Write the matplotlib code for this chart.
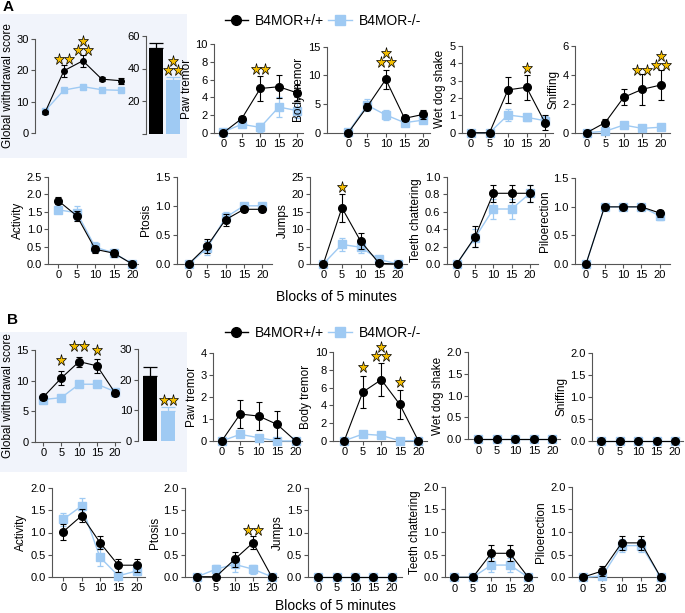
import matplotlib
matplotlib.use('Agg')
import matplotlib.pyplot as plt
import matplotlib.transforms as mtransforms
import matplotlib.ticker as ticker
from matplotlib.lines import Line2D
from matplotlib.patches import Rectangle

plt.rcParams['font.family'] = ['Liberation Sans', 'DejaVu Sans']

W, H = 685, 613
BLUE = '#9fcaf3'
GOLD = '#f5be00'
BOX = '#f1f4fb'
SPINE = '#555555'

blocks = [0, 5, 10, 15, 20]
groups = ['B4MOR+/+', 'B4MOR-/-']

# ---- panel A ----
a_global_wt = [6.5, 19.9, 23.1, 17.2, 16.7]
a_global_wt_err = [0.4, 2.0, 1.9, 0.7, 1.0]
a_global_ko = [7.0, 13.7, 14.8, 13.8, 13.6]
a_global_ko_err = [0.4, 0.6, 0.6, 0.5, 0.5]
a_total = [52.8, 32.9]
a_total_err = [3.1, 2.0]

a_paw_wt = [0.0, 1.6, 5.0, 5.2, 4.5]
a_paw_wt_err = [0.1, 0.3, 1.45, 1.3, 0.9]
a_paw_ko = [0.1, 0.95, 0.6, 2.9, 2.5]
a_paw_ko_err = [0.3, 0.25, 0.5, 1.1, 0.85]

a_body_wt = [0.0, 4.5, 9.3, 2.5, 3.2]
a_body_wt_err = [0.1, 0.6, 1.7, 0.5, 0.8]
a_body_ko = [0.1, 4.8, 3.1, 1.75, 2.2]
a_body_ko_err = [0.1, 1.1, 0.9, 0.35, 0.4]

a_wet_wt = [0.0, 0.0, 2.47, 2.62, 0.58]
a_wet_wt_err = [0.0, 0.0, 0.75, 0.72, 0.45]
a_wet_ko = [0.0, 0.0, 1.02, 0.89, 0.69]
a_wet_ko_err = [0.0, 0.0, 0.35, 0.2, 0.3]

a_sniff_wt = [0.0, 0.7, 2.45, 3.0, 3.3]
a_sniff_wt_err = [0.0, 0.25, 0.55, 1.05, 1.05]
a_sniff_ko = [0.0, 0.1, 0.53, 0.3, 0.38]
a_sniff_ko_err = [0.0, 0.05, 0.2, 0.1, 0.1]

a_act_wt = [1.81, 1.38, 0.42, 0.31, 0.0]
a_act_wt_err = [0.1, 0.15, 0.1, 0.1, 0.0]
a_act_ko = [1.55, 1.47, 0.48, 0.32, 0.0]
a_act_ko_err = [0.1, 0.2, 0.15, 0.12, 0.0]

a_pto_wt = [0.0, 0.31, 0.76, 0.94, 0.94]
a_pto_wt_err = [0.0, 0.12, 0.1, 0.04, 0.04]
a_pto_ko = [0.0, 0.27, 0.8, 1.0, 1.0]
a_pto_ko_err = [0.0, 0.12, 0.1, 0.0, 0.0]

a_jump_wt = [0.0, 16.1, 6.6, 0.2, 0.0]
a_jump_wt_err = [0.0, 4.0, 2.4, 0.2, 0.0]
a_jump_ko = [0.0, 5.6, 4.8, 1.3, 0.0]
a_jump_ko_err = [0.0, 1.8, 1.6, 0.5, 0.0]

a_teeth_wt = [0.0, 0.31, 0.81, 0.81, 0.81]
a_teeth_wt_err = [0.0, 0.12, 0.1, 0.1, 0.1]
a_teeth_ko = [0.0, 0.3, 0.63, 0.63, 0.81]
a_teeth_ko_err = [0.0, 0.1, 0.12, 0.12, 0.1]

a_pilo_wt = [0.0, 1.0, 1.0, 1.0, 0.89]
a_pilo_wt_err = [0.0, 0.0, 0.0, 0.0, 0.06]
a_pilo_ko = [0.0, 1.0, 1.0, 1.0, 0.84]
a_pilo_ko_err = [0.0, 0.0, 0.0, 0.0, 0.07]

# ---- panel B ----
b_global_wt = [7.3, 10.4, 13.1, 12.4, 8.0]
b_global_wt_err = [0.4, 1.2, 0.8, 1.1, 0.5]
b_global_ko = [6.9, 7.2, 9.4, 9.4, 8.2]
b_global_ko_err = [0.3, 0.3, 0.3, 0.3, 0.3]
b_total = [21.2, 9.7]
b_total_err = [3.1, 1.2]

b_paw_wt = [0.0, 1.22, 1.13, 0.75, 0.0]
b_paw_wt_err = [0.0, 0.65, 0.63, 0.62, 0.0]
b_paw_ko = [0.0, 0.3, 0.15, 0.0, 0.0]
b_paw_ko_err = [0.0, 0.0, 0.0, 0.0, 0.0]

b_body_wt = [0.0, 5.5, 6.9, 4.1, 0.0]
b_body_wt_err = [0.0, 1.85, 1.85, 1.65, 0.0]
b_body_ko = [0.0, 0.75, 0.6, 0.0, 0.0]
b_body_ko_err = [0.0, 0.0, 0.0, 0.0, 0.0]

b_wet_wt = [0.0, 0.0, 0.0, 0.0, 0.0]
b_wet_ko = [0.0, 0.0, 0.0, 0.0, 0.0]
b_sniff_wt = [0.0, 0.0, 0.0, 0.0, 0.0]
b_sniff_ko = [0.0, 0.0, 0.0, 0.0, 0.0]
b_jump_wt = [0.0, 0.0, 0.0, 0.0, 0.0]
b_jump_ko = [0.0, 0.0, 0.0, 0.0, 0.0]
zero_err = [0.0, 0.0, 0.0, 0.0, 0.0]

b_act_wt = [1.02, 1.38, 0.77, 0.26, 0.26]
b_act_wt_err = [0.18, 0.15, 0.15, 0.15, 0.15]
b_act_ko = [1.3, 1.6, 0.44, 0.02, 0.13]
b_act_ko_err = [0.15, 0.18, 0.2, 0.0, 0.1]

b_pto_wt = [0.0, 0.0, 0.39, 0.77, 0.0]
b_pto_wt_err = [0.0, 0.0, 0.18, 0.15, 0.0]
b_pto_ko = [0.0, 0.17, 0.28, 0.17, 0.0]
b_pto_ko_err = [0.0, 0.1, 0.17, 0.1, 0.0]

b_teeth_wt = [0.0, 0.0, 0.53, 0.53, 0.0]
b_teeth_wt_err = [0.0, 0.0, 0.18, 0.18, 0.0]
b_teeth_ko = [0.0, 0.0, 0.27, 0.27, 0.0]
b_teeth_ko_err = [0.0, 0.0, 0.15, 0.15, 0.0]

b_pilo_wt = [0.0, 0.14, 0.76, 0.76, 0.0]
b_pilo_wt_err = [0.0, 0.12, 0.15, 0.15, 0.0]
b_pilo_ko = [0.0, 0.03, 0.7, 0.7, 0.0]
b_pilo_ko_err = [0.0, 0.0, 0.15, 0.15, 0.0]


fig = plt.figure(figsize=(W / 100, H / 100), dpi=100)


def style(ax, bottom=True):
	ax.set_facecolor('none')
	for side in ['top', 'right']:
		ax.spines[side].set_visible(False)
	for side in ['left', 'bottom']:
		ax.spines[side].set_color(SPINE)
		ax.spines[side].set_linewidth(0.8)
	if not bottom:
		ax.spines['bottom'].set_visible(False)
		ax.set_xticks([])
	ax.tick_params(direction='out', length=3, width=0.8, color=SPINE,
				   labelsize=8, pad=1.5)


def stars(ax, x, y, n):
	if n == 1:
		offs = [(0, 0)]
	elif n == 2:
		offs = [(-3.4, 0), (3.4, 0)]
	else:
		offs = [(-3.6, 0), (3.6, 0), (0, 6.3)]
	for dx, dy in offs:
		tr = mtransforms.offset_copy(ax.transData, fig=fig, x=dx, y=dy, units='points')
		ax.plot([x], [y], marker='*', ms=8.3, mfc=GOLD, mec='black', mew=0.5,
				transform=tr, clip_on=False, zorder=6)


def line_panel(rect, ymax, yticks, ylabel, wt, wt_err, ko, ko_err, ms=5.5,
			   bottom=True, fmt=None):
	# rect: y-axis px, x=0 px, x=20 px, axis end px, y=0 px, y=max px
	yax, x0, x20, xend, ybot, ytop = rect
	s = (x20 - x0) / 20.0
	ax = fig.add_axes([yax / W, 1 - ybot / H, (xend - yax) / W, (ybot - ytop) / H])
	c1 = ax.errorbar(blocks, ko, yerr=ko_err, color=BLUE, marker='s', ms=ms * 0.95,
					 lw=1.0, elinewidth=0.9, capsize=2.5, capthick=0.9, zorder=3)
	c2 = ax.errorbar(blocks, wt, yerr=wt_err, color='black', marker='o', ms=ms,
					 lw=0.8, elinewidth=0.8, capsize=2.5, capthick=0.8, zorder=4)
	for c in (c1, c2):
		for art in c.get_children():
			art.set_clip_on(False)
	style(ax, bottom)
	ax.set_xlim((yax - x0) / s, (xend - x0) / s)
	ax.set_ylim(0, ymax)
	ax.set_autoscale_on(False)
	if bottom:
		ax.set_xticks(blocks)
	ax.set_yticks(yticks)
	if fmt:
		ax.yaxis.set_major_formatter(ticker.FormatStrFormatter(fmt))
	ax.set_ylabel(ylabel, fontsize=8.5, labelpad=2)
	return ax


def bar_panel(rect, ymax, yticks, yticklabels, vals, errs):
	yax, cb, cw, xend, ybot, ytop = rect
	s = cw - cb
	ax = fig.add_axes([yax / W, 1 - ybot / H, (xend - yax) / W, (ybot - ytop) / H])
	cols = ['black', BLUE]
	ax.bar([0, 1], vals, width=14.0 / s, color=cols, zorder=2)
	for i in range(2):
		ax.errorbar([i], [vals[i]], yerr=[[0], [errs[i]]], color=cols[i], lw=0,
					elinewidth=0.9, capsize=5, capthick=0.9, zorder=3)
	style(ax, bottom=False)
	ax.set_xlim((yax - cb) / s, (xend - cb) / s)
	ax.set_ylim(0, ymax)
	ax.set_autoscale_on(False)
	ax.set_yticks(yticks)
	ax.set_yticklabels(yticklabels)
	return ax


# background boxes, behind every axes
fig.patches.append(Rectangle((0, 1 - 158 / H), 187 / W, 144 / H, transform=fig.transFigure,
							 facecolor=BOX, edgecolor='none', zorder=-10))
fig.patches.append(Rectangle((0, 1 - 472 / H), 187 / W, 140 / H, transform=fig.transFigure,
							 facecolor=BOX, edgecolor='none', zorder=-10))

fig.text(3 / W, 1 - 7 / H, 'A', fontsize=11, fontweight='bold', va='center', ha='left')
fig.text(7 / W, 1 - 320 / H, 'B', fontsize=11, fontweight='bold', va='center', ha='left')

# ===== panel A, first row =====
ax = line_panel((35, 45, 120.7, 126, 132.7, 39.3), 30, [0, 10, 20, 30],
				'Global withdrawal score', a_global_wt, a_global_wt_err,
				a_global_ko, a_global_ko_err, ms=4, bottom=False)
stars(ax, 5, 23.6, 2)
stars(ax, 10, 26.6, 3)

ax = bar_panel((146, 156, 173, 182, 133.5, 36), 60, [0, 20, 40, 60],
			   ['', '20', '40', '60'], a_total, a_total_err)
stars(ax, 1, 39.1, 3)

ax = line_panel((214, 223.3, 297.3, 303, 132.7, 44.3), 10, [0, 2, 4, 6, 8, 10],
				'Paw tremor', a_paw_wt, a_paw_wt_err, a_paw_ko, a_paw_ko_err)
stars(ax, 10, 7.2, 2)

ax = line_panel((326.7, 348.3, 423.3, 430, 132.7, 46.7), 15, [0, 5, 10, 15],
				'Body tremor', a_body_wt, a_body_wt_err, a_body_ko, a_body_ko_err)
stars(ax, 10, 12.3, 3)

ax = line_panel((461.7, 471, 545, 553, 132.7, 46), 5, [0, 1, 2, 3, 4, 5],
				'Wet dog shake', a_wet_wt, a_wet_wt_err, a_wet_ko, a_wet_ko_err)
stars(ax, 15, 3.74, 1)

ax = line_panel((575, 586.7, 660.7, 670, 132.7, 46), 6, [0, 2, 4, 6],
				'Sniffing', a_sniff_wt, a_sniff_wt_err, a_sniff_ko, a_sniff_ko_err)
stars(ax, 15, 4.34, 2)
stars(ax, 20, 4.68, 3)

# ===== panel A, second row =====
line_panel((48.3, 58.3, 132.3, 138, 264, 176.7), 2.5, [0, 0.5, 1.0, 1.5, 2.0, 2.5],
		   'Activity', a_act_wt, a_act_wt_err, a_act_ko, a_act_ko_err, fmt='%.1f')
line_panel((176.7, 188.7, 262.3, 271.7, 264, 176.7), 1.5, [0, 0.5, 1.0, 1.5],
		   'Ptosis', a_pto_wt, a_pto_wt_err, a_pto_ko, a_pto_ko_err, fmt='%.1f')
ax = line_panel((310, 323.3, 397.7, 406.7, 264, 176.7), 25, [0, 5, 10, 15, 20, 25],
				'Jumps', a_jump_wt, a_jump_wt_err, a_jump_ko, a_jump_ko_err)
stars(ax, 5, 22.0, 1)
line_panel((446.7, 456.7, 530, 538, 264, 176.7), 1.0, [0, 0.2, 0.4, 0.6, 0.8, 1.0],
		   'Teeth chattering', a_teeth_wt, a_teeth_wt_err, a_teeth_ko, a_teeth_ko_err,
		   fmt='%.1f')
line_panel((575, 586, 660, 670, 264, 178.3), 1.5, [0, 0.5, 1.0, 1.5],
		   'Piloerection', a_pilo_wt, a_pilo_wt_err, a_pilo_ko, a_pilo_ko_err, fmt='%.1f')

fig.text(336 / W, 1 - 297 / H, 'Blocks of 5 minutes', fontsize=10, ha='center', va='center')

# ===== panel B, first row =====
ax = line_panel((35, 43.3, 115, 120, 441.7, 350), 15, [0, 5, 10, 15],
				'Global withdrawal score', b_global_wt, b_global_wt_err,
				b_global_ko, b_global_ko_err, ms=5.5)
stars(ax, 5, 13.4, 1)
stars(ax, 10, 15.6, 2)
stars(ax, 15, 15.0, 1)

ax = bar_panel((138.3, 150.3, 168.3, 178, 440.7, 349.3), 30, [0, 10, 20, 30],
			   ['0', '10', '20', '30'], b_total, b_total_err)
stars(ax, 1, 13.4, 2)

line_panel((213.3, 221.7, 295.7, 301.7, 441, 352.7), 4, [0, 1, 2, 3, 4],
		   'Paw tremor', b_paw_wt, b_paw_wt_err, b_paw_ko, b_paw_ko_err)
ax = line_panel((333.3, 344.3, 418.3, 426.7, 440.7, 352.3), 10, [0, 2, 4, 6, 8, 10],
				'Body tremor', b_body_wt, b_body_wt_err, b_body_ko, b_body_ko_err)
stars(ax, 5, 8.3, 1)
stars(ax, 10, 9.6, 3)
stars(ax, 15, 6.6, 1)
line_panel((468.3, 478.3, 552.3, 560, 439.3, 351.7), 2.0, [0, 0.5, 1.0, 1.5, 2.0],
		   'Wet dog shake', b_wet_wt, zero_err, b_wet_ko, zero_err, fmt='%.1f')
line_panel((591.7, 601, 675, 683, 440.7, 352.7), 2.0, [0, 0.5, 1.0, 1.5, 2.0],
		   'Sniffing', b_sniff_wt, zero_err, b_sniff_ko, zero_err, fmt='%.1f')

# ===== panel B, second row =====
line_panel((51.7, 63.3, 136.7, 145, 576.7, 488.3), 2.0, [0, 0.5, 1.0, 1.5, 2.0],
		   'Activity', b_act_wt, b_act_wt_err, b_act_ko, b_act_ko_err, fmt='%.1f')
ax = line_panel((185, 197.3, 271.7, 278.3, 576.7, 488.3), 2.0, [0, 0.5, 1.0, 1.5, 2.0],
				'Ptosis', b_pto_wt, b_pto_wt_err, b_pto_ko, b_pto_ko_err, fmt='%.1f')
stars(ax, 15, 1.06, 2)
line_panel((308.3, 318.3, 391.7, 401.7, 576.7, 488.3), 2.0, [0, 0.5, 1.0, 1.5, 2.0],
		   'Jumps', b_jump_wt, zero_err, b_jump_ko, zero_err, fmt='%.1f')
line_panel((445, 454.3, 528.3, 536.7, 577.3, 486.7), 2.0, [0, 0.5, 1.0, 1.5, 2.0],
		   'Teeth chattering', b_teeth_wt, b_teeth_wt_err, b_teeth_ko, b_teeth_ko_err,
		   fmt='%.1f')
line_panel((571.7, 582.7, 660.7, 665, 577.3, 486.7), 2.0, [0, 0.5, 1.0, 1.5, 2.0],
		   'Piloerection', b_pilo_wt, b_pilo_wt_err, b_pilo_ko, b_pilo_ko_err, fmt='%.1f')

fig.text(335 / W, 1 - 606 / H, 'Blocks of 5 minutes', fontsize=10, ha='center', va='center')

# legends
handles = [Line2D([], [], color='black', marker='o', ms=7, lw=1),
		   Line2D([], [], color=BLUE, marker='s', ms=7, lw=1)]
for cy in (21, 333):
	fig.legend(handles, groups, loc='center', bbox_to_anchor=(323 / W, 1 - cy / H),
			   ncol=2, frameon=False, fontsize=10, handlelength=1.7,
			   handletextpad=0.5, columnspacing=0.3)

fig.savefig('out.png', dpi=100)
